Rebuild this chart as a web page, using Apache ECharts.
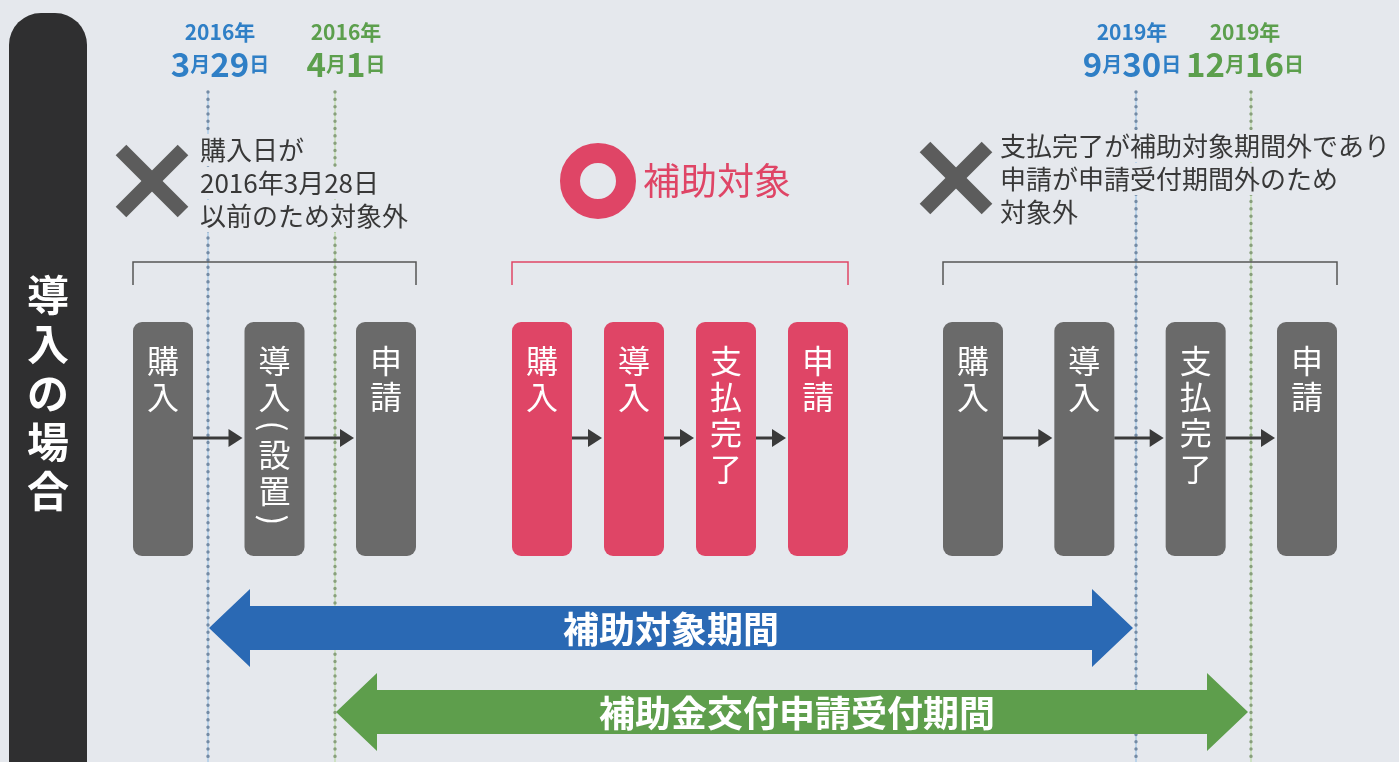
<!DOCTYPE html>
<html>
<head>
<meta charset="utf-8">
<script src="https://cdn.jsdelivr.net/npm/echarts@6/dist/echarts.min.js"></script>
<style>
  html, body { margin: 0; padding: 0; background: #e6e9ed; }
  #main { width: 1399px; height: 762px; }
</style>
</head>
<body>
<div id="main"></div>
<script>
// ---- data ----
const sideTitle = '導入の場合';
const dateYears = ['2016年', '2016年', '2019年', '2019年'];
const dateMonths = ['3', '4', '9', '12'];
const dateDays = ['29', '1', '30', '16'];
const datePeriod = [0, 1, 0, 1]; // 0: 補助対象期間, 1: 申請受付期間
const periodNames = ['補助対象期間', '補助金交付申請受付期間'];
const periodStart = [0, 1]; // index into date markers
const periodEnd = [2, 3];
const caseOk = [false, true, false];
const caseTitles = ['', '補助対象', ''];
const caseNotes = [
  ['購入日が', '2016年3月28日', '以前のため対象外'],
  [],
  ['支払完了が補助対象期間外であり', '申請が申請受付期間外のため', '対象外']
];
const caseSteps = [
  ['購入', '導入(設置)', '申請'],
  ['購入', '導入', '支払完了', '申請'],
  ['購入', '導入', '支払完了', '申請']
];

// ---- layout (axis units, the grid spans the whole canvas) ----
const L = {
  dateX: [208, 335, 1136, 1251],
  dateLabelX: [220, 346, 1132, 1245],
  groupX: [[133, 416], [512, 848], [943, 1337]],
  boxTop: 322, boxBottom: 556, boxW: 60,
  flowY: 438,
  bracketY: 262, bracketTick: 23,
  markCenter: [[152, 181], [598, 181], [956, 178]],
  noteX: [200, 643, 1000],
  noteTop: [150, 181, 146],
  noteStep: 33,
  periodY: [628, 712]
};
const C = {
  bg: '#e5e8ed', tab: '#2f2f30',
  date: ['#2f7fc6', '#5c9f4d'],
  dotLine: ['#bcd4ea', '#cde1c3'],
  dot: ['#738aa4', '#889f7c'],
  arrow: ['#2a69b4', '#5e9e4c'],
  pink: '#df4566', grey: '#6a6a6a', ink: '#383838', bracket: '#555'
};
const FONT = '"Noto Sans CJK JP", "Noto Sans", sans-serif';

const chart = echarts.init(document.getElementById('main'));

function txt(p, text, size, fill, opt) {
  opt = opt || {};
  return {
    type: 'text', x: p[0], y: p[1], rotation: opt.rotation || 0,
    style: {
      text: text, fill: fill, fontSize: size, fontFamily: FONT,
      fontWeight: opt.weight || 'normal',
      align: opt.align || 'center', textAlign: opt.align || 'center',
      verticalAlign: 'middle', textVerticalAlign: 'middle',
      backgroundColor: opt.bg, padding: opt.bg ? [3, 4] : 0,
      rich: opt.rich
    }
  };
}

function custom(name, count, z, build) {
  return {
    type: 'custom', name: name, coordinateSystem: 'cartesian2d',
    z: z, silent: true, animation: false, clip: false,
    data: Array.from({ length: count }, (_, i) => [i, 0]),
    renderItem: (params, api) => ({
      type: 'group',
      children: build(params.dataIndex, (x, y) => api.coord([x, y]))
    })
  };
}

function boxLefts(g) {
  const n = caseSteps[g].length;
  const [a, b] = L.groupX[g];
  const gap = (b - a - n * L.boxW) / (n - 1);
  return caseSteps[g].map((s, i) => a + i * (L.boxW + gap));
}

// side tab
const tabSeries = custom('tab', 1, 1, (i, P) => {
  const p0 = P(9, 13), p1 = P(87, 800);
  const kids = [{
    type: 'rect',
    shape: { x: p0[0], y: p0[1], width: p1[0] - p0[0], height: p1[1] - p0[1], r: [32, 32, 0, 0] },
    style: { fill: C.tab }
  }];
  sideTitle.split('').forEach((ch, k) => {
    kids.push(txt(P(48, 295 + k * 49), ch, 42, '#fff', { weight: 'bold' }));
  });
  return kids;
});

// date markers: labels + dotted guide lines
const dateSeries = custom('dates', dateYears.length, 2, (i, P) => {
  const per = datePeriod[i];
  const x = L.dateX[i];
  const a = P(x, 92), b = P(x, 762);
  const col = C.date[per];
  return [
    { type: 'line', shape: { x1: a[0], y1: a[1], x2: b[0], y2: b[1] },
      style: { stroke: C.dotLine[per], lineWidth: 2 } },
    { type: 'line', shape: { x1: a[0], y1: a[1], x2: b[0], y2: b[1] },
      style: { stroke: C.dot[per], lineWidth: 3.4, lineDash: [0.1, 7.2], lineCap: 'round' } },
    txt(P(L.dateLabelX[i], 32), dateYears[i], 21, col, { weight: 'bold' }),
    txt(P(L.dateLabelX[i], 64), '{n|' + dateMonths[i] + '}{u|月}{n|' + dateDays[i] + '}{u|日}', 33, col, {
      weight: 'bold',
      rich: {
        n: { fontSize: 33, fontWeight: 'bold', fontFamily: FONT, fill: col },
        u: { fontSize: 20, fontWeight: 'bold', fontFamily: FONT, fill: col }
      }
    })
  ];
});

// verdict marks, notes, brackets, step boxes, flow arrows
const caseSeries = custom('cases', caseSteps.length, 3, (g, P) => {
  const kids = [];
  const ok = caseOk[g];
  const accent = ok ? C.pink : C.grey;
  const [mx, my] = L.markCenter[g];
  if (ok) {
    const c = P(mx, my);
    kids.push({ type: 'circle', shape: { cx: c[0], cy: c[1], r: 28 },
      style: { fill: 'none', stroke: C.pink, lineWidth: 20 } });
    kids.push(txt(P(L.noteX[g], L.noteTop[g]), caseTitles[g], 37, C.pink, { align: 'left' }));
  } else {
    const s = 31;
    [[-1, -1, 1, 1], [-1, 1, 1, -1]].forEach(d => {
      const a = P(mx + d[0] * s, my + d[1] * s), b = P(mx + d[2] * s, my + d[3] * s);
      kids.push({ type: 'line', shape: { x1: a[0], y1: a[1], x2: b[0], y2: b[1] },
        style: { stroke: '#5c5c5c', lineWidth: 15 } });
    });
  }
  caseNotes[g].forEach((line, k) => {
    kids.push(txt(P(L.noteX[g] - 4, L.noteTop[g] + k * L.noteStep), line, 26, C.ink,
      { align: 'left', bg: C.bg }));
  });
  // bracket
  const [gx0, gx1] = L.groupX[g];
  kids.push({
    type: 'polyline',
    shape: { points: [P(gx0, L.bracketY + L.bracketTick), P(gx0, L.bracketY), P(gx1, L.bracketY), P(gx1, L.bracketY + L.bracketTick)] },
    style: { fill: 'none', stroke: ok ? C.pink : C.bracket, lineWidth: 1.5 }
  });
  // boxes
  const lefts = boxLefts(g);
  lefts.forEach((bx, k) => {
    const p0 = P(bx, L.boxTop), p1 = P(bx + L.boxW, L.boxBottom);
    kids.push({ type: 'rect',
      shape: { x: p0[0], y: p0[1], width: p1[0] - p0[0], height: p1[1] - p0[1], r: 9 },
      style: { fill: accent } });
    const cx = bx + L.boxW / 2;
    let prevH = 0, cy = 361;
    caseSteps[g][k].split('').forEach((ch, j) => {
      const paren = ch === '(' || ch === ')';
      const h = paren ? 22 : 36;
      if (j > 0) cy += prevH / 2 + h / 2;
      prevH = h;
      kids.push(txt(P(cx, cy), ch, 32, '#fff', paren ? { rotation: -Math.PI / 2 } : {}));
    });
    if (k < lefts.length - 1) {
      const x1 = bx + L.boxW, x2 = lefts[k + 1] - 2;
      const a = P(x1, L.flowY), b = P(x2 - 12, L.flowY);
      kids.push({ type: 'line', shape: { x1: a[0], y1: a[1], x2: b[0], y2: b[1] },
        style: { stroke: '#3a3a3a', lineWidth: 3 } });
      kids.push({ type: 'polygon',
        shape: { points: [P(x2 - 14, L.flowY - 9), P(x2, L.flowY), P(x2 - 14, L.flowY + 9)] },
        style: { fill: '#3a3a3a' } });
    }
  });
  return kids;
});

// period double arrows
const periodSeries = custom('periods', periodNames.length, 4, (i, P) => {
  const x0 = L.dateX[periodStart[i]] + 1, x1 = L.dateX[periodEnd[i]] - 3;
  const cy = L.periodY[i], hh = 39, bh = 22, hl = 41;
  const pts = [
    [x0, cy], [x0 + hl, cy - hh], [x0 + hl, cy - bh], [x1 - hl, cy - bh], [x1 - hl, cy - hh],
    [x1, cy], [x1 - hl, cy + hh], [x1 - hl, cy + bh], [x0 + hl, cy + bh], [x0 + hl, cy + hh]
  ].map(p => P(p[0], p[1]));
  return [
    { type: 'polygon', shape: { points: pts }, style: { fill: C.arrow[i] } },
    txt(P((x0 + x1) / 2 + i * 5, cy + 1), periodNames[i], 36, '#fff', { weight: 'bold' })
  ];
});

chart.setOption({
  backgroundColor: C.bg,
  animation: false,
  grid: { left: 0, right: 0, top: 0, bottom: 0 },
  xAxis: { type: 'value', min: 0, max: 1399, show: false },
  yAxis: { type: 'value', min: 0, max: 762, inverse: true, show: false },
  series: [tabSeries, dateSeries, caseSeries, periodSeries]
});
</script>
</body>
</html>
